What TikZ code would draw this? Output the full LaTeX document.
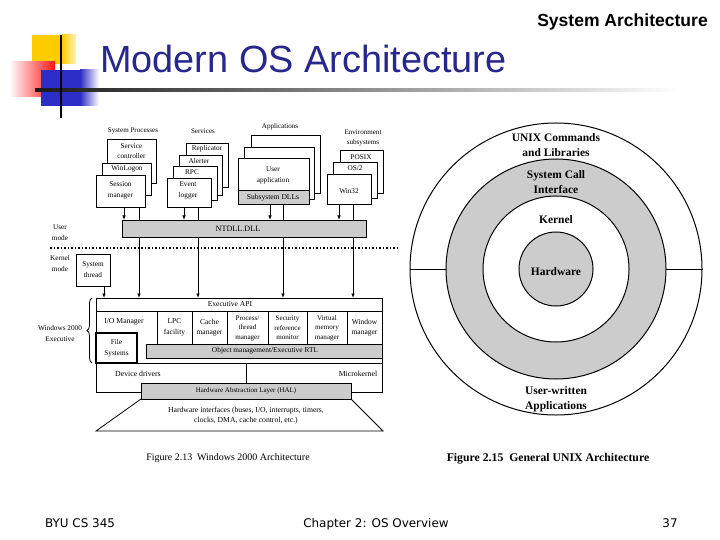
\documentclass[tikz,border=0pt]{standalone}
\usepackage{fontspec}
\setmainfont{Liberation Serif}
\newfontfamily\arialf{Liberation Sans}
\newfontfamily\dejavuf{DejaVu Sans}
\usetikzlibrary{arrows.meta,decorations.pathreplacing}
\definecolor{titleblue}{RGB}{40,40,140}
\definecolor{boxgray}{RGB}{204,204,204}
\definecolor{sqyellow}{RGB}{255,204,0}
\definecolor{sqred}{RGB}{255,20,20}
\definecolor{sqblue}{RGB}{45,45,200}
\pgfdeclarelayer{bg}
\pgfsetlayers{bg,main}
\newcommand\wf{\fontsize{7.3}{10}\selectfont}
\newcommand\uf{\fontsize{11.5}{15}\selectfont\bfseries}
\newcommand\mkbox[6][box]{\node[#1,anchor=north west,minimum width={#4bp-#2bp},minimum height={#5bp-#3bp}] (#6) at (#2,#3) {};}
\begin{document}
\begin{tikzpicture}[x=1bp,y=-1bp,
  box/.style={draw,line width=0.8bp,fill=white,inner sep=0,outer sep=0},
  gbox/.style={box,fill=boxgray},
  lbl/.style={font=\wf,inner sep=0,align=center},
  ulbl/.style={font=\uf,inner sep=0,align=center},
  arr/.style={-{Latex[length=4.5bp,width=3.5bp]},line width=0.8bp},
  ln/.style={line width=0.8bp}]
\useasboundingbox (0,0) rectangle (720,540);
% ---- slide decoration
\fill[sqyellow] (32,35) rectangle (62,64);
\shade[left color=sqyellow,right color=sqyellow!25] (62,35) rectangle (76,64);
\shade[left color=white,right color=sqred] (9,62) rectangle (55,97);
\fill[sqblue] (41,70) rectangle (80,106);
\shade[left color=sqblue,right color=white] (80,70) rectangle (99,106);
\shade[left color=black!90,right color=white] (35,88.5) rectangle (680,91.5);
\fill[black] (60,35) rectangle (62,118);
\node[anchor=base west,font=\arialf\fontsize{38}{40}\selectfont,text=titleblue,inner sep=0] (title) at (100,73) {Modern OS Architecture};
\node[anchor=base east,font=\arialf\bfseries\fontsize{17.6}{19}\selectfont,inner sep=0] (sysarch) at (708,27) {System Architecture};
% ---- footer
\node[font=\dejavuf\fontsize{12}{14}\selectfont,inner sep=0,anchor=base] (f1) at (80,527) {BYU CS 345};
\node[font=\dejavuf\fontsize{12}{14}\selectfont,inner sep=0,anchor=base] (f2) at (376,527) {Chapter 2: OS Overview};
\node[font=\dejavuf\fontsize{12}{14}\selectfont,inner sep=0,anchor=base] (f3) at (670,527) {37};
% ---- Windows 2000 diagram
\node[lbl,font=\fontsize{7.1}{10}\selectfont] (lsp) at (133,131) {System Processes};
\node[lbl,font=\fontsize{7.1}{10}\selectfont] (lsv) at (203,131) {Services};
\node[lbl,font=\fontsize{7.1}{10}\selectfont] (lap) at (280,127) {Applications};
\node[lbl,font=\fontsize{7.1}{10}\selectfont] (lenv) at (363,138) {Environment\\subsystems};
\mkbox{107}{139}{156}{183}{sc}
\mkbox{102}{163}{151}{195}{wl}
\mkbox{96}{175}{145}{207}{sm}
\node[lbl] (tsc) at (131.5,151) {Service\\controller};
\node[lbl] (twl) at (127,169) {WinLogon};
\node[lbl,font=\fontsize{7.3}{11}\selectfont] (tsm) at (120.5,190.5) {Session\\manager};
\mkbox{186}{143}{228}{187}{rep}
\mkbox{179}{155}{222}{195}{alt}
\mkbox{173}{166}{217}{200}{rpc}
\mkbox{167}{178}{211}{207}{evl}
\node[lbl] (trep) at (207,149) {Replicator};
\node[lbl] (talt) at (199,161) {Alerter};
\node[lbl] (trpc) at (192,172) {RPC};
\node[lbl,font=\fontsize{7.3}{11}\selectfont] (tevl) at (188,190.5) {Event\\logger};
\mkbox{251}{135}{320}{193}{appa}
\mkbox{244}{147}{314}{199}{appb}
\mkbox{238}{158}{309}{204}{ua}
\mkbox[gbox]{238}{190}{309}{204}{sdll}
\node[lbl,font=\fontsize{7.3}{11}\selectfont] (tua) at (273,175.5) {User\\application};
\node[lbl,font=\fontsize{7.6}{10}\selectfont] (tsdll) at (273,197.5) {Subsystem DLLs};
\mkbox{340}{150}{383}{193}{posix}
\mkbox{333}{162}{377}{198}{ostwo}
\mkbox{327}{174}{371}{204}{win}
\node[lbl] (tposix) at (361,157) {POSIX};
\node[lbl] (tos) at (355,168) {OS/2};
\node[lbl] (twin) at (349,191) {Win32};
% connectors x positions
\coordinate (xa) at (124,0); \coordinate (xb) at (139,0);
\coordinate (xc) at (184,0); \coordinate (xd) at (198,0);
\coordinate (xe) at (270,0); \coordinate (xf) at (283,0);
\coordinate (xg) at (339,0); \coordinate (xh) at (353,0);
\coordinate (xi) at (104,0);
\mkbox[gbox]{122}{220}{366}{237}{ntdll}
\node[lbl,font=\fontsize{8.2}{10}\selectfont] (tntdll) at (238,229) {NTDLL.DLL};
\mkbox{76}{254}{110}{286}{sthr}
\node[lbl,font=\fontsize{7.3}{11}\selectfont] (tsthr) at (93,269.5) {System\\thread};
\mkbox{96}{298}{382}{363}{exec}
\begin{pgfonlayer}{bg}
\draw[arr] (sm.south -| xb) -- (exec.north -| xb);
\draw[arr] (evl.south -| xd) -- (exec.north -| xd);
\draw[arr] (ua.south -| xf) -- (exec.north -| xf);
\draw[arr] (win.south -| xh) -- (exec.north -| xh);
\end{pgfonlayer}
\draw[arr] (sm.south -| xa) -- (ntdll.north -| xa);
\draw[arr] (evl.south -| xc) -- (ntdll.north -| xc);
\draw[arr] (sdll.south -| xe) -- (ntdll.north -| xe);
\draw[arr] (win.south -| xg) -- (ntdll.north -| xg);
\draw[arr] (sthr.south -| xi) -- (exec.north -| xi);
\node[lbl,font=\fontsize{7.3}{10.5}\selectfont] (tum) at (60,232.5) {User\\mode};
\node[lbl,font=\fontsize{7.3}{10.5}\selectfont] (tkm) at (60,263.5) {Kernel\\mode};
\coordinate (dl) at (50,248); \coordinate (dr) at (398,248);
\draw[line width=1.6bp,dash pattern=on 1.6bp off 1.9bp] (dl) -- (dr);
\mkbox{96}{298}{382}{311}{api}
\node[lbl,font=\fontsize{7.6}{10}\selectfont] (tapi) at (230,304.5) {Executive API};
\mkbox{157}{311}{192}{344}{lpc}
\mkbox{192}{311}{227}{344}{cache}
\mkbox{227}{311}{268}{344}{ptm}
\mkbox{268}{311}{307}{344}{srm}
\mkbox{307}{311}{347}{344}{vmm}
\mkbox{347}{311}{382}{344}{wm}
\node[lbl,font=\fontsize{7.7}{10}\selectfont] (tio) at (124,322) {I/O Manager};
\node[lbl,font=\fontsize{7.5}{10.5}\selectfont] (tlpc) at (174.5,327.5) {LPC\\facility};
\node[lbl,font=\fontsize{7.5}{9.5}\selectfont] (tcache) at (209.5,327.5) {Cache\\manager};
\node[lbl,font=\fontsize{7.1}{9.5}\selectfont] (tptm) at (247.5,328) {Process/\\thread\\manager};
\node[lbl,font=\fontsize{7.1}{9.5}\selectfont] (tsrm) at (287.5,328) {Security\\reference\\monitor};
\node[lbl,font=\fontsize{7.1}{9.5}\selectfont] (tvmm) at (327,328) {Virtual\\memory\\manager};
\node[lbl,font=\fontsize{7.5}{9.5}\selectfont] (twm) at (364.5,327.5) {Window\\manager};
\mkbox[box,line width=1.2bp]{96}{333}{137}{363}{fs}
\node[lbl,font=\fontsize{7.3}{11}\selectfont] (tfs) at (116.5,348) {File\\Systems};
\mkbox[gbox]{146}{344}{382}{358}{obj}
\node[lbl,font=\fontsize{7.4}{10}\selectfont] (tobj) at (265,351) {Object management/Executive RTL};
\mkbox{96}{363}{246}{392}{dd}
\mkbox{246}{363}{382}{392}{mk}
\node[lbl,font=\fontsize{7.8}{10}\selectfont] (tdd) at (138,374) {Device drivers};
\node[lbl,font=\fontsize{7.8}{10}\selectfont] (tmk) at (358,374) {Microkernel};
\mkbox[gbox]{141}{383}{351}{399}{hal}
\node[lbl,font=\fontsize{7}{10}\selectfont] (thal) at (246,391) {Hardware Abstraction Layer (HAL)};
\coordinate (tbl) at (96,431); \coordinate (tbr) at (383,431);
\draw[ln] (hal.south west) -- (tbl) -- (tbr) -- (hal.south east);
\node[lbl,font=\fontsize{7.7}{10}\selectfont] (thw) at (246,416) {Hardware interfaces (buses, I/O, interrupts, timers,\\clocks, DMA, cache control, etc.)};
\coordinate (bra) at (92,363); \coordinate (brb) at (92,298);
\draw[ln,decorate,decoration={brace,amplitude=5bp}] (bra) -- (brb);
\node[lbl,font=\fontsize{7.3}{11}\selectfont] (tw2k) at (60,333.5) {Windows 2000\\Executive};
\node[inner sep=0,font=\fontsize{10}{12}\selectfont] (cap1) at (228,458) {Figure 2.13\ \ Windows 2000 Architecture};
% ---- UNIX diagram
\node[circle,draw,line width=1bp,fill=white,minimum size=292bp,inner sep=0] (uout) at (556,269) {};
\draw[line width=1bp] (uout.west) -- (uout.east);
\node[circle,draw,line width=1bp,fill=boxgray,minimum size=220bp,inner sep=0] (ugray) at (556,269) {};
\node[circle,draw,line width=1bp,fill=white,minimum size=146bp,inner sep=0] (ukern) at (556,269) {};
\node[circle,draw,line width=1bp,fill=boxgray,minimum size=74bp,inner sep=0] (uhw) at (556,269) {};
\node[ulbl] (tunix) at (556,145.5) {UNIX Commands\\and Libraries};
\node[ulbl] (tsci) at (556,182.5) {System Call\\Interface};
\node[ulbl] (tkern) at (556,220) {Kernel};
\node[ulbl] (thwu) at (556,272) {Hardware};
\node[ulbl] (tuwa) at (556,399) {User-written\\Applications};
\node[inner sep=0,font=\fontsize{11.8}{14}\selectfont\bfseries] (cap2) at (548,459) {Figure 2.15\ \ General UNIX Architecture};
\end{tikzpicture}
\end{document}
